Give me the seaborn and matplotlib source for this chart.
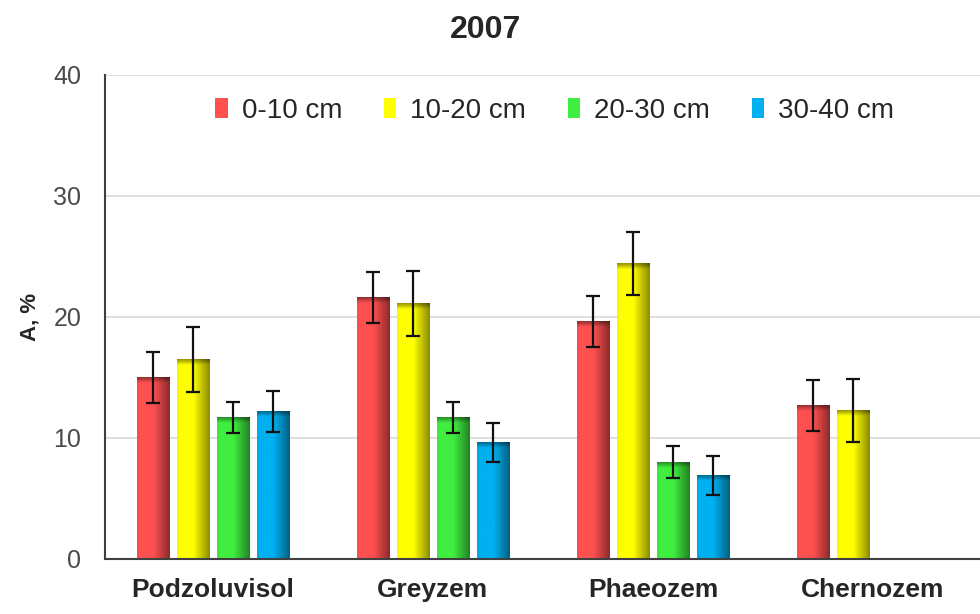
import numpy as np
import pandas as pd
import matplotlib
matplotlib.use("Agg")
import matplotlib.pyplot as plt
import matplotlib.colors as mcolors
from matplotlib.patches import Patch
import seaborn as sns

soils = ["Podzoluvisol", "Greyzem", "Phaeozem", "Chernozem"]
depths = ["0-10 cm", "10-20 cm", "20-30 cm", "30-40 cm"]
colors = ["#FF5050", "#FFFF00", "#40EE40", "#00B0F0"]

# mean values per depth layer (rows follow soils)
a_0_10 = [15.0, 21.6, 19.6, 12.7]
a_10_20 = [16.5, 21.1, 24.4, 12.3]
a_20_30 = [11.7, 11.7, 8.0, np.nan]
a_30_40 = [12.2, 9.6, 6.9, np.nan]

err_0_10 = [2.1, 2.1, 2.1, 2.1]
err_10_20 = [2.7, 2.7, 2.6, 2.6]
err_20_30 = [1.3, 1.3, 1.3, np.nan]
err_30_40 = [1.7, 1.6, 1.6, np.nan]

values = [a_0_10, a_10_20, a_20_30, a_30_40]
errors = [err_0_10, err_10_20, err_20_30, err_30_40]

rows = []
for d, vals, errs in zip(depths, values, errors):
    for s, v, e in zip(soils, vals, errs):
        rows.append({"soil": s, "depth": d, "A": v, "err": e})
df = pd.DataFrame(rows)

sns.set_style("white")
plt.rcParams["font.family"] = ["Liberation Sans", "DejaVu Sans"]

fig = plt.figure(figsize=(9.8, 6.14), dpi=100)
ax = fig.add_axes([0.107, 0.0896, 0.893, 0.7886])

sns.barplot(data=df.dropna(subset=["A"]), x="soil", y="A", hue="depth",
            order=soils, hue_order=depths, palette=colors,
            errorbar=None, width=0.727, gap=0.2, ax=ax, legend=False,
            saturation=1, linewidth=0, zorder=2)


def shade(patch, color):
    # fake the 3D look: darker right side and top edge
    x0, y0 = patch.get_x(), patch.get_y()
    w, h = patch.get_width(), patch.get_height()
    if not np.isfinite(h) or h <= 0:
        return
    nx, ny = 60, 200
    xs = np.linspace(0, 1, nx)
    fx = np.where(xs < 0.5, 1.0, 1.0 - (xs - 0.5) / 0.5 * 0.45)
    fx = np.where(xs < 0.06, 0.97, fx)
    ys = np.linspace(0, 1, ny)  # 0 = top
    top = min(0.45 / h, 0.5)
    fy = np.where(ys < top, 0.6 + 0.4 * ys / top, 1.0)
    f = fx[None, :] * fy[:, None]
    rgb = np.array(mcolors.to_rgb(color))
    img = f[:, :, None] * rgb[None, None, :]
    ax.imshow(img, extent=(x0, x0 + w, y0, y0 + h), aspect="auto",
              interpolation="bilinear", zorder=2.5)


bar_containers = list(ax.containers)
for hi, cont in enumerate(bar_containers):
    for bar in cont.patches:
        if bar is None:
            continue
        cx = bar.get_x() + bar.get_width() / 2
        si = int(round(cx))
        h = bar.get_height()
        if not np.isfinite(h):
            continue
        shade(bar, colors[hi])
        e = errors[hi][si]
        ax.errorbar(cx, h, yerr=e, fmt="none", ecolor="#111111",
                    elinewidth=1.6, capsize=5, capthick=1.6, zorder=4)

ax.set_xlim(-0.49, 3.486)
ax.set_ylim(0, 40)
ax.set_yticks([0, 10, 20, 30, 40])
ax.yaxis.grid(True, color="#D9D9D9", linewidth=1.2, zorder=0)
ax.set_axisbelow(True)
for sp in ["top", "right"]:
    ax.spines[sp].set_visible(False)
for sp in ["left", "bottom"]:
    ax.spines[sp].set_color("#404040")
    ax.spines[sp].set_linewidth(1.5)

ax.tick_params(axis="y", direction="in", length=5, width=1.2, color="#404040",
               labelsize=18, labelcolor="#4a4a4a", pad=17)
ax.tick_params(axis="x", length=0, labelsize=19, pad=14)
for lbl in ax.get_xticklabels():
    lbl.set_fontweight("bold")

ax.set_xlabel("")
ax.set_ylabel("A, %", fontsize=16, fontweight="bold", labelpad=9)
fig.text(0.495, 0.951, "2007", fontsize=23, fontweight="bold",
         ha="center", va="center")

handles = [Patch(facecolor=c, edgecolor="none") for c in colors]
ax.legend(handles, depths, ncol=4, frameon=False, loc="center",
          bbox_to_anchor=(0.514, 0.926), fontsize=20, handlelength=0.45,
          handleheight=0.75, handletextpad=0.5, columnspacing=1.5)

fig.savefig("out.png", dpi=100)
